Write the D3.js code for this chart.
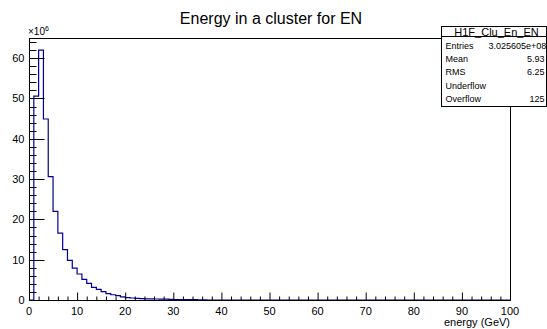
<!DOCTYPE html>
<html>
<head>
<meta charset="utf-8">
<script src="https://cdn.jsdelivr.net/npm/d3@7"></script>
<style>
  body { margin: 0; background: #fff; }
  svg { display: block; font-family: "Liberation Sans", Arial, sans-serif; }
</style>
</head>
<body>
<svg id="chart" width="547" height="329"></svg>
<script>
const margin = { top: 38, right: 37, bottom: 29, left: 29 },
    width = 547 - margin.left - margin.right,
    height = 329 - margin.top - margin.bottom;

// bin contents in units of 1e6, bins of 1 GeV from 0 to 100
const binEdges = d3.range(0, 101, 1);
const counts = [0, 50.6, 62.0, 44.9, 30.6, 22.0, 16.6, 12.5, 9.85, 7.9,
    6.45, 5.1, 4.1, 3.15, 2.65, 2.06, 1.56, 1.3, 1.07, 0.8,
    0.6, 0.5, 0.38, 0.34, 0.3, 0.27, 0.25, 0.22, 0.2, 0.15,
    0.13, 0.11, 0.1, 0.08, 0.07, 0.06, 0.05].concat(d3.range(63).map(() => 0));
const xTicks = d3.range(0, 101, 10);
const yTicks = d3.range(0, 61, 10);
const statsLabels = ["Entries", "Mean", "RMS", "Underflow", "Overflow"];
const statsValues = ["3.025605e+08", "5.93", "6.25", "", "125"];

const svg = d3.select("#chart");
const g = svg.append("g").attr("transform", `translate(${margin.left},${margin.top})`);

const x = d3.scaleLinear().domain([0, 100]).range([0, width]);
const y = d3.scaleLinear().domain([0, 65]).range([height, 0]);

// histogram outline
const pts = counts.map((c, i) => [binEdges[i], c]);
pts.push([100, counts[99]]);
g.append("path")
    .attr("d", d3.line().x(d => x(d[0])).y(d => y(d[1])).curve(d3.curveStepAfter)(pts))
    .attr("fill", "none").attr("stroke", "#000099").attr("stroke-width", 1.2);

// frame
g.append("rect").attr("x", 0.5).attr("y", 0.5).attr("width", width).attr("height", height)
    .attr("fill", "none").attr("stroke", "#000").attr("stroke-width", 1);

// x axis ticks
const xAxis = g.append("g").attr("transform", `translate(0,${height + 0.5})`);
xAxis.selectAll("line.minor").data(d3.range(0, 101, 2)).join("line")
    .attr("x1", d => x(d) + 0.5).attr("x2", d => x(d) + 0.5)
    .attr("y1", 0).attr("y2", d => d % 10 === 0 ? -8 : -4)
    .attr("stroke", "#000");
xAxis.selectAll("text").data(xTicks).join("text")
    .attr("x", d => x(d)).attr("y", 14)
    .attr("text-anchor", "middle").attr("font-size", 11).text(d => d);

// y axis ticks
const yAxis = g.append("g").attr("transform", "translate(0.5,0)");
yAxis.selectAll("line").data(d3.range(0, 65, 2)).join("line")
    .attr("y1", d => Math.round(y(d)) + 0.5).attr("y2", d => Math.round(y(d)) + 0.5)
    .attr("x1", 0).attr("x2", d => d % 10 === 0 ? 15 : 7)
    .attr("stroke", "#000");
yAxis.selectAll("text").data(yTicks).join("text")
    .attr("x", -5).attr("y", d => y(d) + 4)
    .attr("text-anchor", "end").attr("font-size", 11).text(d => d);

// exponent
const ex = g.append("text").attr("x", -1).attr("y", -3).attr("font-size", 10);
ex.append("tspan").text("\u00d710");
ex.append("tspan").attr("dy", -4).attr("font-size", 7).text("6");

// axis title
g.append("text").attr("x", width).attr("y", height + 26)
    .attr("text-anchor", "end").attr("font-size", 11).text("energy (GeV)");

// title
svg.append("text").attr("x", 271).attr("y", 24)
    .attr("text-anchor", "middle").attr("font-size", 16).text("Energy in a cluster for EN");

// stats box
const box = svg.append("g").attr("transform", "translate(441.5,26.5)");
box.append("rect").attr("width", 105).attr("height", 80)
    .attr("fill", "#fff").attr("stroke", "#000");
box.append("line").attr("x1", 0).attr("x2", 105).attr("y1", 10).attr("y2", 10).attr("stroke", "#000");
box.append("text").attr("x", 55).attr("y", 9.5).attr("text-anchor", "middle")
    .attr("font-size", 11).text("H1F_Clu_En_EN");
box.selectAll("text.lab").data(statsLabels).join("text").attr("class", "lab")
    .attr("x", 4).attr("y", (d, i) => 22 + i * 13.4).attr("font-size", 9).text(d => d);
box.selectAll("text.val").data(statsValues).join("text").attr("class", "val")
    .attr("x", (d, i) => i === 0 ? 47 : 103).attr("y", (d, i) => 22 + i * 13.4)
    .attr("text-anchor", (d, i) => i === 0 ? "start" : "end")
    .attr("font-size", 9).text(d => d);
</script>
</body>
</html>
